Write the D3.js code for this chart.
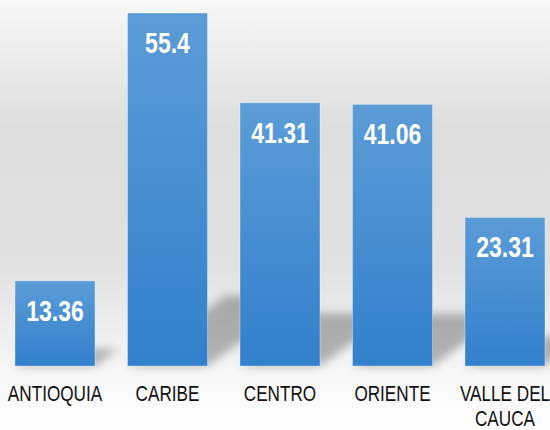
<!DOCTYPE html>
<html>
<head>
<meta charset="utf-8">
<script src="https://cdn.jsdelivr.net/npm/d3@7"></script>
<style>
  html, body { margin: 0; padding: 0; background: #fff; }
  svg { display: block; }
  .cat text { font-family: "Liberation Sans Narrow", "Arial Narrow", "Liberation Sans", Arial, sans-serif; font-size: 22px; fill: #111; }
  .val { font-family: "Liberation Sans Narrow", "Arial Narrow", "Liberation Sans", Arial, sans-serif; font-weight: bold; font-size: 29.5px; fill: #fff; }
</style>
</head>
<body>
<svg id="chart" width="550" height="430"></svg>
<script>
const categories = ["ANTIOQUIA", "CARIBE", "CENTRO", "ORIENTE", "VALLE DEL\nCAUCA"];
const values = [13.36, 55.4, 41.31, 41.06, 23.31];

const width = 550, height = 430;
const baseY = 366, topY = 13;
const squeeze = 0.78; // no narrow font installed, so squash a regular one

const svg = d3.select("#chart");
const defs = svg.append("defs");

// background: light gray band fading to white at the bottom
const bg = defs.append("linearGradient").attr("id", "bg").attr("x1", 0).attr("y1", 0).attr("x2", 0).attr("y2", 1);
[[0, "#f7f7f7"], [0.3, "#dddddd"], [0.62, "#e1e1e1"], [0.86, "#f6f6f6"], [1, "#ffffff"]]
    .forEach(([o, c]) => bg.append("stop").attr("offset", o).attr("stop-color", c));

const barGrad = defs.append("linearGradient").attr("id", "barGrad").attr("x1", 0).attr("y1", 0).attr("x2", 0).attr("y2", 1);
barGrad.append("stop").attr("offset", 0).attr("stop-color", "#5b9cd7");
barGrad.append("stop").attr("offset", 1).attr("stop-color", "#3280cc");

defs.append("filter").attr("id", "blur")
    .attr("x", "-50%").attr("y", "-50%").attr("width", "200%").attr("height", "200%")
    .append("feGaussianBlur").attr("stdDeviation", 5);

svg.append("rect").attr("width", width).attr("height", height).attr("fill", "url(#bg)");

const x = d3.scaleBand()
    .domain(categories)
    .range([-1.25, 561.25])
    .paddingInner(0.28889)
    .paddingOuter(0.14444);

const y = d3.scaleLinear().domain([0, 55.4]).range([baseY, topY]);

const data = categories.map((c, i) => ({ cat: c, value: values[i] }));

// perspective shadows cast behind the bars (up and to the right)
svg.append("g").attr("filter", "url(#blur)")
    .selectAll("path")
    .data(data)
    .join("path")
    .attr("d", d => {
        const x0 = x(d.cat), x1 = x0 + x.bandwidth();
        const h = baseY - y(d.value);
        const a = h * 0.28, b = h * 0.2;
        return `M${x0},${baseY}L${x1},${baseY}L${x1 + a},${baseY - b}L${x0 + a},${baseY - b}Z`;
    })
    .attr("fill", "#000")
    .attr("opacity", 0.28);

svg.append("g")
    .selectAll("rect")
    .data(data)
    .join("rect")
    .attr("x", d => x(d.cat))
    .attr("y", d => y(d.value))
    .attr("width", x.bandwidth())
    .attr("height", d => baseY - y(d.value))
    .attr("fill", "url(#barGrad)")
    .attr("stroke", "rgba(255,255,255,0.35)")
    .attr("stroke-width", 1);

svg.append("g")
    .selectAll("text")
    .data(data)
    .join("text")
    .attr("class", "val")
    .attr("transform", d => `translate(${x(d.cat) + x.bandwidth() / 2},${y(d.value) + 40}) scale(${squeeze},1)`)
    .attr("text-anchor", "middle")
    .text(d => d.value);

// category axis, no line or ticks
const axis = svg.append("g")
    .attr("class", "cat")
    .attr("transform", `translate(0,${baseY})`)
    .call(d3.axisBottom(x).tickSize(0).tickPadding(0));
axis.select(".domain").remove();
axis.selectAll("text")
    .attr("y", 0)
    .attr("dy", null)
    .attr("fill", "#111")
    .attr("transform", `scale(${squeeze},1)`)
    .each(function (d) {
        const t = d3.select(this);
        const lines = d.split("\n");
        t.text(null);
        lines.forEach((ln, i) => {
            t.append("tspan")
                .attr("x", 0)
                .attr("y", 35 + i * 25.5)
                .text(ln);
        });
    });
</script>
</body>
</html>
